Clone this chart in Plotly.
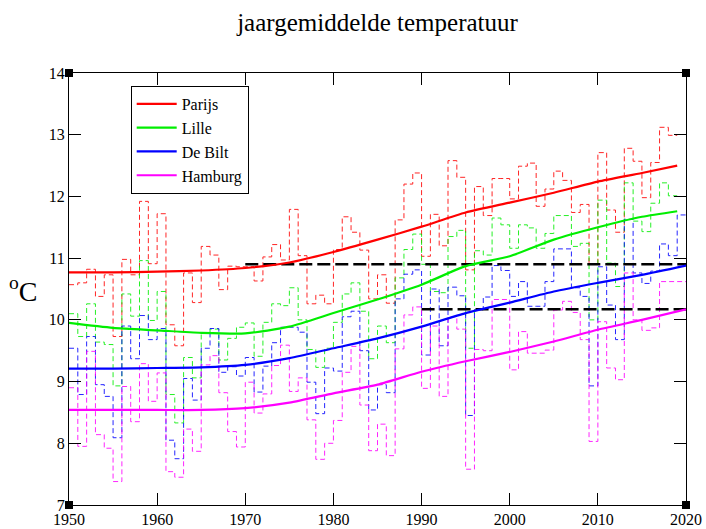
import plotly.graph_objects as go

# ---------------- data ----------------
start_year = 1950

parijs = [10.57, 10.60, 10.82, 10.38, 10.73, 9.73, 10.98, 10.73, 11.92, 10.91,
          11.72, 9.92, 9.58, 10.76, 10.28, 11.19, 11.05, 10.49, 10.87, 10.86,
          10.86, 10.63, 11.02, 11.22, 10.97, 11.79, 11.04, 10.26, 10.40, 10.26,
          11.14, 11.67, 11.42, 11.13, 10.34, 10.73, 10.27, 11.62, 12.20, 12.38,
          11.03, 11.71, 11.20, 12.58, 12.31, 10.81, 12.16, 11.69, 12.29, 12.29,
          11.96, 12.49, 12.54, 11.84, 12.12, 12.41, 12.26, 11.74, 11.87, 10.90,
          12.71, 11.78, 11.42, 12.78, 12.57, 11.98, 12.55, 13.12, 12.99]

lille = [10.10, 9.73, 10.26, 9.64, 9.60, 8.93, 10.42, 10.06, 10.96, 9.99,
         10.46, 8.79, 8.33, 9.39, 9.06, 9.78, 9.85, 9.35, 9.70, 9.88,
         9.95, 9.41, 9.96, 10.26, 10.23, 10.52, 10.00, 9.52, 9.23, 9.54,
         9.96, 10.42, 10.60, 10.14, 9.37, 9.90, 9.63, 10.68, 11.14, 11.39,
         10.90, 10.46, 10.44, 11.35, 11.45, 9.54, 11.12, 11.05, 11.65, 11.54,
         11.16, 11.54, 11.49, 11.16, 11.40, 11.69, 11.69, 11.19, 11.24, 10.00,
         11.94, 10.92, 10.54, 12.22, 11.60, 11.43, 11.89, 12.22, 12.01]

debilt = [9.54, 8.79, 9.73, 8.95, 8.76, 8.09, 9.90, 9.37, 10.07, 9.68,
          9.86, 8.05, 7.75, 9.05, 8.70, 9.54, 9.86, 9.15, 9.24, 9.09,
          9.39, 8.83, 9.25, 9.63, 9.88, 9.88, 9.80, 8.99, 8.48, 9.22,
          9.17, 10.05, 10.14, 9.50, 8.54, 8.95, 8.82, 10.34, 10.74, 10.81,
          9.43, 10.50, 9.58, 10.53, 10.39, 8.45, 10.16, 10.37, 10.88, 10.80,
          10.38, 10.62, 10.22, 10.22, 10.62, 11.15, 11.15, 10.52, 10.38, 8.93,
          10.86, 10.24, 9.68, 11.63, 10.76, 10.59, 10.79, 11.23, 11.04, 11.70]

hamburg = [8.90, 7.95, 9.49, 8.14, 7.92, 7.38, 8.92, 8.35, 9.29, 8.68,
           9.14, 7.54, 7.45, 8.23, 7.87, 9.27, 9.42, 8.82, 8.19, 7.94,
           8.99, 8.49, 8.80, 9.26, 9.59, 8.84, 9.06, 8.38, 7.74, 8.00,
           8.37, 9.15, 9.57, 8.62, 7.88, 8.31, 7.80, 9.53, 10.08, 10.21,
           8.89, 9.90, 8.76, 10.05, 9.85, 7.58, 9.52, 9.50, 10.33, 10.33,
           9.19, 9.81, 9.46, 9.46, 9.51, 10.16, 10.30, 10.12, 9.68, 8.03,
           9.97, 9.22, 9.03, 10.76, 10.00, 9.83, 9.87, 10.62, 10.62, 10.62]

# smoothed trends, sampled every 5 years (last point = end of record)
trend_years_short = [1950, 1955, 1960, 1965, 1970, 1975, 1980, 1985, 1990,
                     1995, 2000, 2005, 2010, 2015, 2019]
trend_years_long = [1950, 1955, 1960, 1965, 1970, 1975, 1980, 1985, 1990,
                    1995, 2000, 2005, 2010, 2015, 2020]
parijs_trend = [10.77, 10.77, 10.78, 10.80, 10.84, 10.93, 11.10, 11.30, 11.51,
                11.74, 11.90, 12.06, 12.24, 12.38, 12.50]
lille_trend = [9.95, 9.87, 9.83, 9.79, 9.78, 9.89, 10.11, 10.33, 10.57,
               10.87, 11.03, 11.30, 11.50, 11.67, 11.76]
debilt_trend = [9.21, 9.21, 9.22, 9.23, 9.27, 9.38, 9.54, 9.70, 9.89,
                10.11, 10.28, 10.46, 10.60, 10.73, 10.88]
hamburg_trend = [8.54, 8.54, 8.54, 8.54, 8.57, 8.66, 8.81, 8.95, 9.16,
                 9.33, 9.48, 9.65, 9.84, 10.00, 10.17]

# reference levels (black dashed)
ref_levels = [10.90, 10.17]
ref_from = [1970, 1990]
ref_to = [2020, 2020]

names = ["Parijs", "Lille", "De Bilt", "Hamburg"]
colors = ["#ff0000", "#00ee00", "#0000ff", "#ff00ff"]
annual = [parijs, lille, debilt, hamburg]
trends = [parijs_trend, lille_trend, debilt_trend, hamburg_trend]
trend_x = [trend_years_short, trend_years_short, trend_years_long, trend_years_long]

x_ticks = [1950, 1960, 1970, 1980, 1990, 2000, 2010, 2020]
y_ticks = [7, 8, 9, 10, 11, 12, 13, 14]

SERIF = "Liberation Serif, Times New Roman, serif"

fig = go.Figure()

# annual values as dashed step lines (each year spans [year, year+1])
for name, col, vals in zip(names, colors, annual):
    xs = [start_year + i for i in range(len(vals))]
    xs = xs + [xs[-1] + 1]
    ys = vals + [vals[-1]]
    fig.add_trace(go.Scatter(x=xs, y=ys, mode="lines", line_shape="hv",
                             line=dict(color=col, width=1, dash="5px,3px"),
                             opacity=0.85, showlegend=False, hoverinfo="skip"))

# reference dashed lines
for lvl, a, b in zip(ref_levels, ref_from, ref_to):
    fig.add_trace(go.Scatter(x=[a, b], y=[lvl, lvl], mode="lines",
                             line=dict(color="black", width=2.5, dash="13px,5px"),
                             showlegend=False, hoverinfo="skip"))

# smoothed trends (legend entries)
for name, col, tx, tv in zip(names, colors, trend_x, trends):
    fig.add_trace(go.Scatter(x=tx, y=tv, mode="lines", name=name,
                             line=dict(color=col, width=2.2, shape="spline", smoothing=0.6)))

axis_common = dict(ticks="inside", ticklen=12, tickwidth=1, tickcolor="black",
                   showline=True, linecolor="black", linewidth=1.3,
                   mirror="allticks", showgrid=False, zeroline=False,
                   automargin=False,
                   tickfont=dict(family=SERIF, size=16, color="black"))

fig.update_xaxes(range=[1950, 2020], tickvals=x_ticks, **axis_common)
fig.update_yaxes(range=[7, 14], tickvals=y_ticks, **axis_common)

# corner markers
corner_shapes = []
for cx in (0, 1):
    for cy in (0, 1):
        corner_shapes.append(dict(type="rect", xref="paper", yref="paper",
                                  xsizemode="pixel", ysizemode="pixel",
                                  xanchor=cx, yanchor=cy,
                                  x0=-4, x1=4, y0=-4, y1=4,
                                  fillcolor="black", line=dict(width=0)))

fig.update_layout(
    width=706, height=529,
    margin=dict(l=69, r=20, t=73, b=24, autoexpand=False),
    paper_bgcolor="white", plot_bgcolor="white",
    title=dict(text="jaargemiddelde temperatuur", x=0.5, xref="paper",
               y=1 - 22 / 529, yanchor="middle",
               font=dict(family=SERIF, size=25, color="black")),
    legend=dict(x=0.1, y=0.97, xanchor="left", yanchor="top",
                bgcolor="white", bordercolor="black", borderwidth=1,
                font=dict(family=SERIF, size=16, color="black"),
                traceorder="normal", itemwidth=40,
                tracegroupgap=0),
    shapes=corner_shapes,
    annotations=[dict(text="<sup>o</sup>C", xref="paper", yref="paper",
                      x=0, y=0.5, xanchor="right", yanchor="middle",
                      xshift=-30, showarrow=False,
                      font=dict(family=SERIF, size=28, color="black"))],
    showlegend=True,
)

fig.write_html("out.html")
